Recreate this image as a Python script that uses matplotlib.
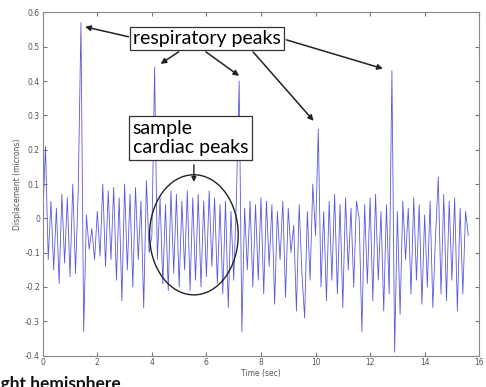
import numpy as np
import matplotlib
matplotlib.use('Agg')
import matplotlib.pyplot as plt
from matplotlib.patches import Ellipse

# displacement samples, one every 0.1 s
dt = 0.1
displacement = [
    0.00, 0.21, -0.12, 0.05, -0.15, 0.03, -0.19, 0.07, -0.13, 0.06,
    -0.17, 0.10, -0.16, 0.08, 0.57, -0.33, 0.01, -0.09, -0.03, -0.12,
    0.02, -0.11, 0.10, -0.14, 0.08, -0.12, 0.09, -0.18, 0.06, -0.24,
    0.10, -0.15, 0.07, -0.20, 0.09, -0.12, 0.05, -0.26, 0.11, -0.10,
    -0.05, 0.44, -0.12, 0.06, -0.19, 0.04, -0.21, 0.08, -0.16, 0.07,
    -0.20, 0.05, -0.15, 0.08, -0.21, 0.06, -0.18, 0.07, -0.20, 0.05,
    -0.17, 0.08, -0.14, 0.06, -0.19, 0.04, -0.22, 0.05, -0.26, 0.02,
    -0.18, 0.06, 0.40, -0.33, 0.03, -0.15, 0.05, -0.20, 0.04, -0.18,
    0.06, -0.22, 0.05, -0.14, 0.04, -0.25, 0.02, -0.12, 0.05, -0.23,
    0.03, -0.10, -0.02, -0.27, 0.04, -0.16, -0.29, 0.02, -0.18, 0.10,
    -0.05, 0.26, -0.20, 0.02, -0.24, 0.05, -0.18, 0.07, -0.22, 0.04,
    -0.26, 0.06, -0.15, 0.03, -0.20, 0.05, 0.00, -0.33, 0.04, -0.19,
    0.06, -0.24, 0.07, -0.18, 0.02, -0.27, 0.04, -0.22, 0.43, -0.39,
    0.02, -0.28, 0.05, -0.12, 0.03, -0.22, 0.06, -0.18, 0.04, -0.25,
    0.01, -0.20, 0.05, -0.26, -0.05, 0.12, -0.22, 0.07, -0.24, 0.05,
    -0.18, 0.06, -0.27, 0.03, -0.22, 0.02, -0.05,
]
time = np.arange(len(displacement)) * dt

x_ticks = [0, 2, 4, 6, 8, 10, 12, 14, 16]
y_ticks = [-0.4, -0.3, -0.2, -0.1, 0, 0.1, 0.2, 0.3, 0.4, 0.5, 0.6]
y_labels = ['-0.4', '-0.3', '-0.2', '-0.1', '0', '0.1', '0.2', '0.3', '0.4', '0.5', '0.6']

# respiratory peak arrows: (tail, head) in data units
resp_arrows = [
    ((3.14, 0.529), (1.55, 0.558)),
    ((4.98, 0.485), (4.32, 0.45)),
    ((5.98, 0.485), (7.2, 0.415)),
    ((7.71, 0.485), (9.93, 0.284)),
    ((8.93, 0.52), (12.47, 0.436)),
]

fig = plt.figure(figsize=(4.86, 3.87), dpi=100)
ax = fig.add_axes([0.088, 0.081, 0.898, 0.887])

ax.plot(time, displacement, color='#3030d8', linewidth=0.6, alpha=0.8)

ax.set_xlim(0, 16)
ax.set_ylim(-0.4, 0.6)
ax.set_xticks(x_ticks)
ax.set_yticks(y_ticks)
ax.set_yticklabels(y_labels)
ax.tick_params(direction='in', labelsize=5.5, labelcolor='#555555', color='#777777',
               length=3, top=True, right=True, pad=2)
for s in ax.spines.values():
    s.set_color('#888888')
    s.set_linewidth(0.8)
ax.set_xlabel('Time (sec)', fontsize=5.5, color='#555555', labelpad=1)
ax.set_ylabel('Displacement (microns)', fontsize=5.5, color='#555555', labelpad=2)

# annotations
ax.text(6.03, 0.523, 'respiratory peaks', fontsize=14, family='Lato', ha='center', va='center',
        bbox=dict(boxstyle='square,pad=0.15', fc='white', ec='#333333', lw=0.9), zorder=5)
for tail, head in resp_arrows:
    ax.annotate('', xy=head, xytext=tail,
                arrowprops=dict(arrowstyle='-|>', color='#222222', lw=1.1, mutation_scale=8,
                                shrinkA=0, shrinkB=0), zorder=4)

ax.text(3.3, 0.234, 'sample\ncardiac peaks', fontsize=14, family='Lato', ha='left', va='center',
        linespacing=1.2,
        bbox=dict(boxstyle='square,pad=0.2', fc='white', ec='#333333', lw=0.9), zorder=5)
ax.annotate('', xy=(5.54, 0.106), xytext=(5.54, 0.156),
            arrowprops=dict(arrowstyle='-|>', color='#222222', lw=1.0, mutation_scale=7,
                            shrinkA=0, shrinkB=0), zorder=4)
ax.add_patch(Ellipse((5.54, -0.048), 3.25, 0.35, fill=False, ec='#222222', lw=1.0, zorder=4))

fig.text(-0.03, -0.006, 'Right hemisphere', fontsize=12.5, family='Lato', weight='bold',
         ha='left', va='baseline', color='#111111')

fig.savefig('out.png', dpi=100)
